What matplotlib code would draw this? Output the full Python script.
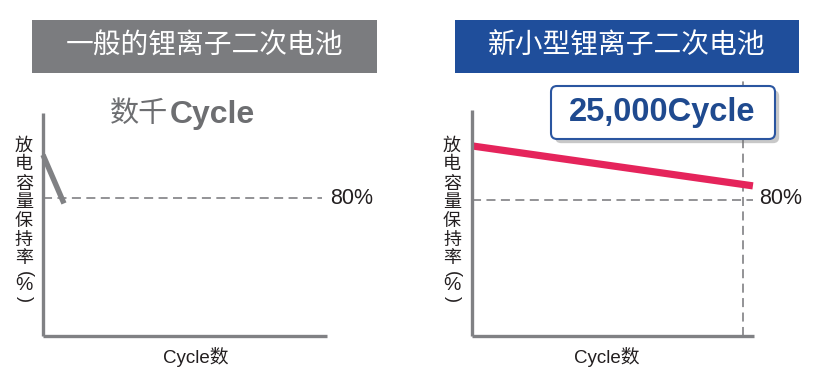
import matplotlib
matplotlib.use('Agg')
import matplotlib.pyplot as plt
from matplotlib.patches import Rectangle, FancyBboxPatch
import matplotlib.patheffects as pe

plt.rcParams['font.family'] = ['Liberation Sans', 'Noto Sans CJK SC', 'DejaVu Sans']

# data (schematic: cycles vs capacity retention %)
old_cycles = [0, 1920]
old_retention = [96, 78]
new_cycles = [0, 25900]
new_retention = [100, 85.2]
limit_retention = 80
limit_cycle = 25000

titles = ['一般的锂离子二次电池', '新小型锂离子二次电池']
title_colors = ['#7b7c7f', '#1f4e9b']
ylabel = '放电容量保持率'
xlabel = 'Cycle数'

W, H = 820, 382
GRAY = '#808184'
DARK = '#231f20'
CJK = ['Noto Sans CJK SC', 'DejaVu Sans']

fig = plt.figure(figsize=(W / 100, H / 100), dpi=100)


def fx(x):
    return x / W


def fy(y):
    return 1 - y / H


def make_axes(x0, x1, y0, y1, ylim):
    ax = fig.add_axes([fx(x0), fy(y1), fx(x1 - x0), (y1 - y0) / H])
    ax.set_xlim(0, 26000)
    ax.set_ylim(*ylim)
    for s in ['top', 'right']:
        ax.spines[s].set_visible(False)
    for s in ['left', 'bottom']:
        ax.spines[s].set_linewidth(2.4)
        ax.spines[s].set_color(GRAY)
        ax.spines[s].set_capstyle('butt')
    ax.set_xticks([])
    ax.set_yticks([])
    ax.patch.set_alpha(0)
    return ax


ax1 = make_axes(43, 327, 113, 336, (28.9, 111.5))
ax2 = make_axes(472, 754, 110, 336, (29.6, 113.3))

# left panel
ax1.axhline(limit_retention, xmax=0.982, color='#8a8a8d', lw=1.3, ls=(0, (5, 3)))
ax1.plot(old_cycles, old_retention, color=GRAY, lw=3.9, solid_capstyle='butt', clip_on=False)

# right panel
ax2.axhline(limit_retention, xmax=0.997, color='#8a8a8d', lw=1.3, ls=(0, (5, 3)))
ax2.plot([limit_cycle, limit_cycle], [29.6, 125], color='#8a8a8d', lw=1.3,
         ls=(0, (5, 3)), clip_on=False)
ax2.plot(new_cycles, new_retention, color='#e5245b', lw=5.2, solid_capstyle='butt', clip_on=False)

# title boxes
for (x0, x1), title, c in zip([(32, 377), (455, 799)], titles, title_colors):
    fig.add_artist(Rectangle((fx(x0), fy(73)), fx(x1 - x0), 53 / H,
                             transform=fig.transFigure, facecolor=c, edgecolor='none'))
    fig.text(fx((x0 + x1) / 2), fy(46), title, color='white', fontsize=20,
             family=CJK, fontweight='medium', ha='center', va='center')

# vertical y labels, one glyph at a time; parentheses turned to vertical form
ycenters = [145.5, 164.5, 183.5, 202, 221.5, 240, 258.5]
for x in [24, 452]:
    for ch, yc in zip(ylabel, ycenters):
        fig.text(fx(x), fy(yc), ch, color=DARK, fontsize=13, family=CJK,
                 fontweight='medium', ha='center', va='center')
    fig.text(fx(x), fy(274), '(', color=DARK, fontsize=13, rotation=-90,
             ha='center', va='center')
    fig.text(fx(x), fy(286), '%', color=DARK, fontsize=14, ha='center', va='center')
    fig.text(fx(x), fy(298.5), ')', color=DARK, fontsize=13, rotation=-90,
             ha='center', va='center')
for x in [196, 607]:
    fig.text(fx(x), fy(357), xlabel, color=DARK, fontsize=13.5, ha='center', va='center')

# 80% labels
for x in [330, 759]:
    fig.text(fx(x), fy(198), '80%', color=DARK, fontsize=15.5, ha='left', va='center')

# "数千Cycle"
fig.text(fx(168), fy(114), '数千', color='#6d6e71', fontsize=21, family=CJK,
         ha='right', va='center')
fig.text(fx(170), fy(115), 'Cycle', color='#6d6e71', fontsize=23, fontweight='bold',
         ha='left', va='center')

# callout box
box = FancyBboxPatch((5.53, 3.82 - 1.37), 2.20, 0.49,
                     boxstyle='round,pad=0.02,rounding_size=0.06',
                     transform=fig.dpi_scale_trans, facecolor='white',
                     edgecolor='#2a55a0', lw=1.5)
box.set_path_effects([pe.SimplePatchShadow(offset=(3, -3), shadow_rgbFace='#777777', alpha=0.4),
                      pe.Normal()])
fig.add_artist(box)
fig.text(fx(662), fy(113), f'{limit_cycle:,}Cycle', color='#1f4a8f', fontsize=23.5,
         fontweight='bold', ha='center', va='center')

fig.savefig('out.png', dpi=100, facecolor='white')
